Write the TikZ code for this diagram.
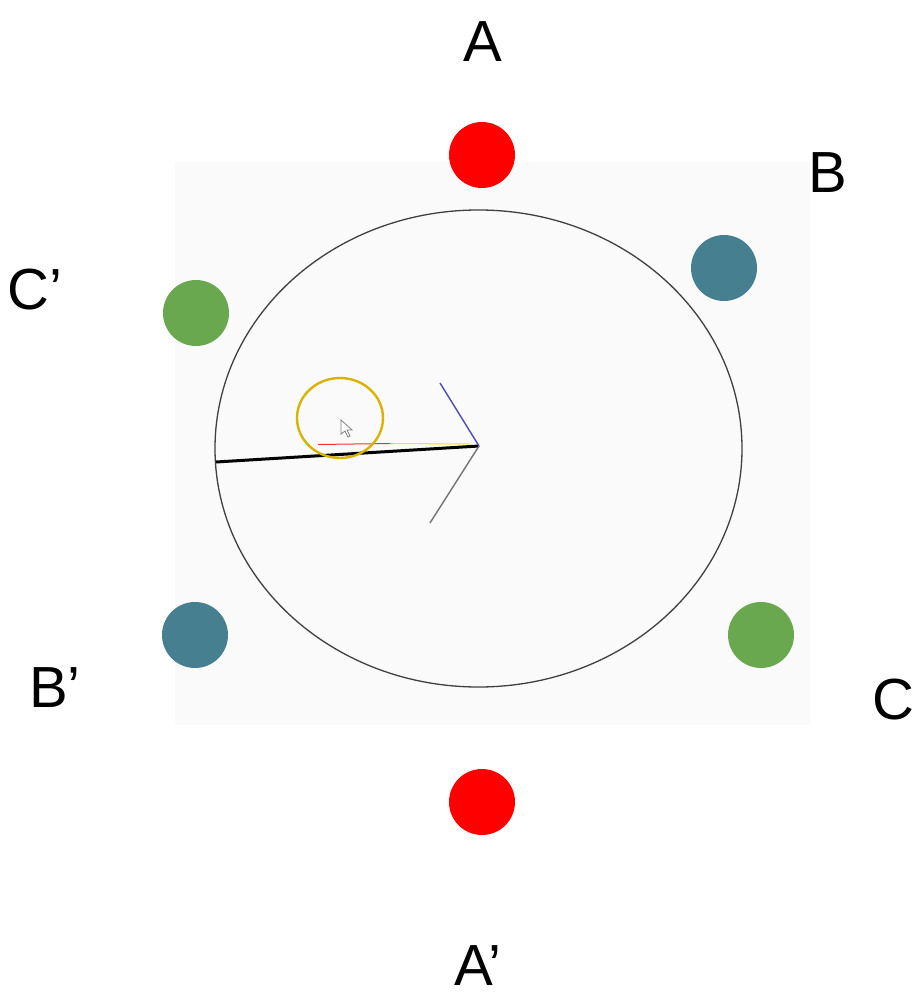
\documentclass[tikz,border=0pt]{standalone}
\usepackage{fontspec}
\setmainfont{Liberation Sans}
\begin{document}
\begin{tikzpicture}[x=1pt,y=-1pt,
  dot/.style={circle,inner sep=0pt,minimum size=66pt},
  lbl/.style={inner sep=0pt,font=\fontsize{58}{62}\selectfont},
  phA/.style={dot,fill=phred},
  phB/.style={dot,fill=phteal},
  phC/.style={dot,fill=phgreen}]
\definecolor{phred}{HTML}{FF0000}
\definecolor{phteal}{HTML}{467F8F}
\definecolor{phgreen}{HTML}{6AA84F}
\definecolor{panel}{HTML}{FAFAFA}
\definecolor{ring}{HTML}{D9B300}
\useasboundingbox (0,0) rectangle (917,1000);
% stator panel
\fill[panel] (175,162) rectangle (810,725);
% rotor outline
\draw[black!75,line width=1.3pt] (478.5,448.5) ellipse [x radius=263.5,y radius=238.5];
% phase conductors
\node[phA] (a)  at (482,155) {};
\node[phA] (a2) at (482,802) {};
\node[phB] (b)  at (724,268) {};
\node[phB] (b2) at (195,635) {};
\node[phC] (c)  at (761,635) {};
\node[phC] (c2) at (196,313) {};
% phase labels
\node[lbl] (la)  at (483,42)  {A};
\node[lbl] (lb)  at (828,173) {B};
\node[lbl] (lc)  at (893,700) {C};
\node[lbl] (la2) at (478,966) {A’};
\node[lbl] (lb2) at (55,688)  {B’};
\node[lbl] (lc2) at (35,290)  {C’};
% field vector
\coordinate (tail) at (216,462);
\coordinate (tip)  at (479,446);
\coordinate (wu)   at (440,383);
\coordinate (wd)   at (430,523);
\draw[black,line width=3pt] (tail) -- (tip);
\draw[red!80,line width=1pt] (318,444.5) -- (390,443.5);
\draw[yellow!85!orange,line width=1pt] (390,443.5) -- (470,444);
\draw[blue!40!gray,line width=1.4pt] (tip) -- (wu);
\draw[gray!90!black,line width=1.4pt] (tip) -- (wd);
% pointer highlight
\draw[ring,line width=2.4pt] (340,418) ellipse [x radius=43,y radius=40];
\draw[gray,line width=0.8pt,fill=white] (341,420) -- (341,434) -- (345,431) -- (348,437) -- (350,436) -- (347,430) -- (352,430) -- cycle;
\end{tikzpicture}
\end{document}
